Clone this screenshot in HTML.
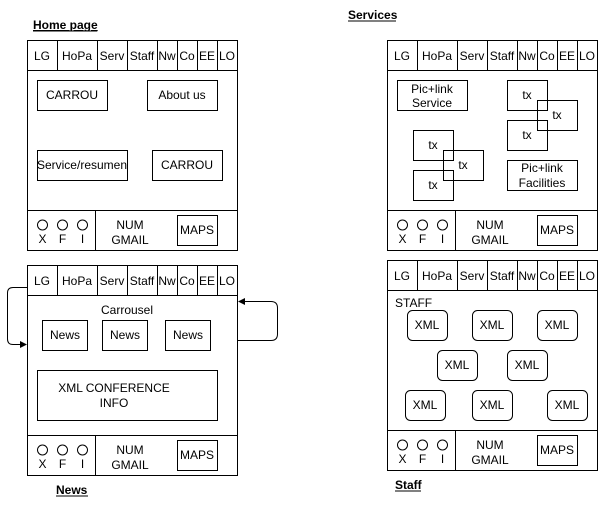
<!DOCTYPE html>
<html><head><meta charset="utf-8"><style>
html,body{margin:0;padding:0;background:#fff;}
svg{display:block;}
text{font-family:"Liberation Sans",Arial,sans-serif;font-size:12px;fill:#000;}
.b{fill:none;stroke:#000;stroke-width:1;}
</style></head><body>
<svg width="598" height="505" viewBox="0 0 598 505" xmlns="http://www.w3.org/2000/svg">
<defs>
<g id="frame">
<rect class="b" x="0.5" y="0.5" width="210" height="210"/>
<line class="b" x1="0" y1="30.5" x2="210" y2="30.5"/>
<line class="b" x1="0" y1="170.5" x2="210" y2="170.5"/>
<path class="b" d="M30.5 0V30M70.5 0V30M100.5 0V30M130.5 0V30M150.5 0V30M170.5 0V30M190.5 0V30"/>
<g text-anchor="middle">
<text x="15" y="20">LG</text><text x="50" y="20">HoPa</text><text x="85" y="20">Serv</text><text x="115" y="20">Staff</text>
<text x="140" y="20">Nw</text><text x="160" y="20">Co</text><text x="180" y="20">EE</text><text x="200" y="20">LO</text>
</g>
<line class="b" x1="68.5" y1="170" x2="68.5" y2="210"/>
<circle class="b" cx="15.5" cy="185" r="5"/><circle class="b" cx="35.5" cy="185" r="5"/><circle class="b" cx="55.5" cy="185" r="5"/>
<g text-anchor="middle">
<text x="15.5" y="203">X</text><text x="35.5" y="203">F</text><text x="55.5" y="203">I</text>
<text x="103" y="189">NUM</text><text x="103" y="204">GMAIL</text>
<text x="170" y="194">MAPS</text>
</g>
<rect class="b" x="150.5" y="175.5" width="40" height="30"/>
</g>
</defs>

<!-- Home -->
<text x="33" y="29" font-weight="bold" text-decoration="underline">Home page</text>
<line x1="33" y1="31" x2="97" y2="31" stroke="#000"/>
<use href="#frame" x="27" y="40"/>
<g text-anchor="middle">
<rect class="b" x="37.5" y="80.5" width="70" height="30"/><text x="72" y="99">CARROU</text>
<rect class="b" x="147.5" y="80.5" width="70" height="30"/><text x="182" y="99">About us</text>
<rect class="b" x="37.5" y="150.5" width="90" height="30"/><text x="82" y="169">Service/resumen</text>
<rect class="b" x="152.5" y="150.5" width="70" height="30"/><text x="187" y="169">CARROU</text>
</g>

<!-- News -->
<use href="#frame" x="27" y="265"/>
<g text-anchor="middle">
<text x="127" y="314">Carrousel</text>
<rect class="b" x="42.5" y="320.5" width="45" height="30"/><text x="65" y="339">News</text>
<rect class="b" x="102.5" y="320.5" width="45" height="30"/><text x="125" y="339">News</text>
<rect class="b" x="165.5" y="320.5" width="45" height="30"/><text x="188" y="339">News</text>
<rect class="b" x="37.5" y="370.5" width="180" height="50"/>
<text x="114" y="392">XML  CONFERENCE</text><text x="114" y="407">INFO</text>
</g>
<text x="56" y="494" font-weight="bold">News</text>
<line x1="56" y1="496" x2="88" y2="496" stroke="#000"/>
<path class="b" d="M27 287.5H13Q7.5 287.5 7.5 293V339Q7.5 344.5 13 344.5H22"/>
<path d="M27 344.5L20 341V348Z" fill="#000"/>
<path class="b" d="M237 340.5H271Q277.5 340.5 277.5 334V308Q277.5 301.5 271 301.5H244"/>
<path d="M238 301.5L245 298V305Z" fill="#000"/>

<!-- Services -->
<text x="348" y="19" font-weight="bold">Services</text>
<line x1="348" y1="21" x2="396" y2="21" stroke="#000"/>
<use href="#frame" x="387" y="40"/>
<g text-anchor="middle">
<rect class="b" x="397.5" y="80.5" width="70" height="30"/><text x="432" y="93">Pic+link</text><text x="432" y="107">Service</text>
<rect class="b" x="507.5" y="80.5" width="40" height="30"/><text x="527" y="99">tx</text>
<rect class="b" x="537.5" y="100.5" width="40" height="30"/><text x="557" y="119">tx</text>
<rect class="b" x="507.5" y="120.5" width="40" height="30"/><text x="527" y="139">tx</text>
<rect class="b" x="507.5" y="160.5" width="70" height="30"/><text x="542" y="172">Pic+link</text><text x="542" y="187">Facilities</text>
<rect class="b" x="413.5" y="130.5" width="40" height="30"/><text x="433" y="149">tx</text>
<rect class="b" x="443.5" y="150.5" width="40" height="30"/><text x="463" y="169">tx</text>
<rect class="b" x="413.5" y="170.5" width="40" height="30"/><text x="433" y="189">tx</text>
</g>

<!-- Staff -->
<use href="#frame" x="387" y="260"/>
<text x="395" y="307">STAFF</text>
<g text-anchor="middle">
<rect class="b" x="407.5" y="310.5" width="40" height="30" rx="5"/><text x="427" y="329">XML</text>
<rect class="b" x="472.5" y="310.5" width="40" height="30" rx="5"/><text x="492" y="329">XML</text>
<rect class="b" x="537.5" y="310.5" width="40" height="30" rx="5"/><text x="557" y="329">XML</text>
<rect class="b" x="437.5" y="350.5" width="40" height="30" rx="5"/><text x="457" y="369">XML</text>
<rect class="b" x="507.5" y="350.5" width="40" height="30" rx="5"/><text x="527" y="369">XML</text>
<rect class="b" x="405.5" y="390.5" width="40" height="30" rx="5"/><text x="425" y="409">XML</text>
<rect class="b" x="472.5" y="390.5" width="40" height="30" rx="5"/><text x="492" y="409">XML</text>
<rect class="b" x="547.5" y="390.5" width="40" height="30" rx="5"/><text x="567" y="409">XML</text>
</g>
<text x="395" y="489" font-weight="bold">Staff</text>
<line x1="395" y1="491" x2="421" y2="491" stroke="#000"/>
</svg>
</body></html>
